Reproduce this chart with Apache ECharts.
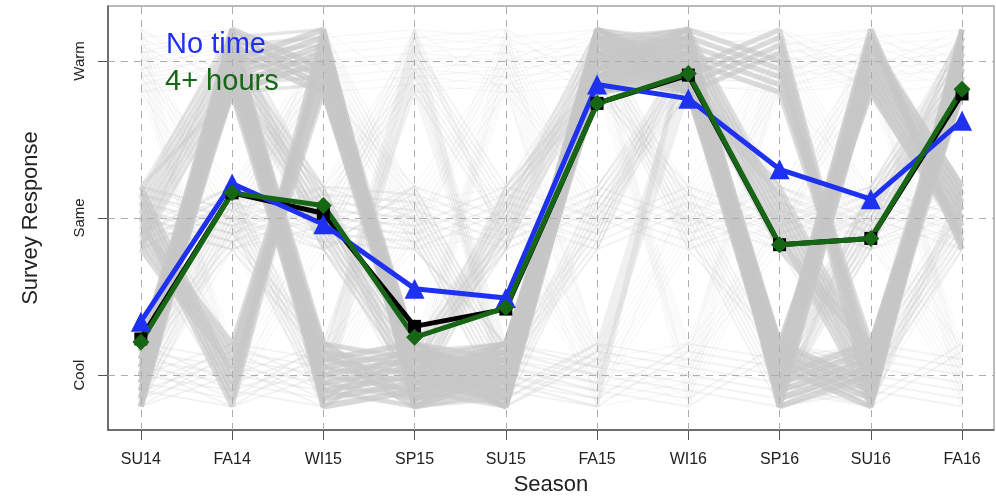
<!DOCTYPE html>
<html>
<head>
<meta charset="utf-8">
<script src="https://cdn.jsdelivr.net/npm/echarts@6/dist/echarts.min.js"></script>
<style>
  html, body { margin: 0; padding: 0; background: #fff; }
  #chart { width: 996px; height: 498px; }
</style>
</head>
<body>
<div id="chart"></div>
<script>
// seasons on the x axis, response levels on the y axis (1 = Cool, 2 = Same, 3 = Warm)
var seasons = ['SU14', 'FA14', 'WI15', 'SP15', 'SU15', 'FA15', 'WI16', 'SP16', 'SU16', 'FA16'];
var levelNames = ['Cool', 'Same', 'Warm'];

// mean responses
var noTime   = [1.34, 2.22, 1.96, 1.55, 1.49, 2.85, 2.76, 2.31, 2.12, 2.62];
var allMean  = [1.23, 2.16, 2.03, 1.31, 1.42, 2.73, 2.91, 1.83, 1.87, 2.79];
var fourPlus = [1.21, 2.16, 2.08, 1.24, 1.43, 2.73, 2.92, 1.83, 1.87, 2.82];

// individual response paths (background) and how many students share each one
var paths = [
  [1, 3, 1, 1, 1, 3, 3, 1, 3, 2],
  [1, 3, 3, 1, 1, 3, 3, 1, 1, 3],
  [2, 1, 3, 1, 1, 3, 3, 3, 1, 3],
  [1, 3, 1, 1, 1, 3, 3, 2, 1, 3],
  [2, 3, 3, 1, 1, 3, 3, 1, 3, 2],
  [1, 3, 2, 1, 2, 3, 3, 1, 1, 3],
  [2, 2, 1, 1, 1, 1, 3, 1, 1, 2],
  [2, 3, 2, 2, 1, 3, 3, 1, 2, 3],
  [1, 3, 1, 3, 2, 3, 3, 1, 1, 3],
  [1, 1, 1, 1, 1, 2, 3, 2, 2, 3],
  [2, 2, 2, 2, 2, 2, 2, 2, 2, 2],
  [1, 1, 1, 1, 1, 1, 1, 1, 1, 1],
  [3, 3, 3, 3, 3, 3, 3, 3, 3, 3],
  [3, 3, 2, 3, 1, 3, 2, 2, 2, 2],
  [3, 1, 3, 2, 3, 2, 3, 1, 3, 1],
  [2, 1, 2, 3, 3, 1, 2, 3, 2, 1],
  [1, 2, 1, 2, 2, 1, 1, 3, 3, 2],
  [3, 2, 3, 1, 3, 3, 1, 2, 1, 3],
  [2, 3, 1, 3, 1, 2, 3, 3, 3, 3],
  [1, 3, 2, 1, 2, 3, 2, 1, 2, 3],
  [2, 1, 3, 1, 1, 3, 3, 2, 1, 3],
  [1, 2, 2, 1, 1, 3, 3, 1, 2, 3],
  [2, 2, 2, 1, 2, 2, 3, 2, 3, 2],
  [1, 2, 3, 2, 1, 3, 3, 3, 1, 2]
];
var pathCounts = [2.5, 2.5, 2.2, 2, 1.5, 1.2, 1, 1, 0.8, 0.8, 0.8, 0.8, 0.5, 0.6, 0.5, 0.5, 0.5, 0.5, 0.5, 0.8, 0.8, 0.8, 0.6, 0.6];
var jitter = [-0.2, -0.15, -0.1, -0.05, 0, 0.05, 0.1, 0.15, 0.2];
var jitterStep = [2, 4, 5, 7, 1, 3, 6, 8];

var chart = echarts.init(document.getElementById('chart'));

var series = [];
paths.forEach(function (p, k) {
  var w = pathCounts[k];
  var step = jitterStep[k % jitterStep.length];
  jitter.forEach(function (j, m) {
    series.push({
      type: 'line',
      data: p.map(function (v, i) { return [i, v + jitter[(m + i * step) % jitter.length]]; }),
      showSymbol: false,
      silent: true,
      z: 2,
      lineStyle: { color: '#c8c8c8', width: Math.min(8, Math.max(1, w * 2.4)), opacity: Math.min(1, 0.28 * w) }
    });
  });
});

// dashed reference lines on top of the grey paths
series.push({
  type: 'line',
  data: [],
  z: 3,
  silent: true,
  markLine: {
    symbol: 'none',
    silent: true,
    label: { show: false },
    lineStyle: { color: '#adadad', type: [7, 6], width: 1 },
    data: seasons.map(function (s, i) { return { xAxis: i }; })
      .concat(levelNames.map(function (s, i) { return { yAxis: i + 1 }; }))
  }
});

function meanSeries(name, values, color, symbol, size) {
  return {
    name: name,
    type: 'line',
    data: values.map(function (v, i) { return [i, v]; }),
    symbol: symbol,
    symbolSize: size,
    z: 5,
    lineStyle: { color: color, width: 5 },
    itemStyle: { color: color }
  };
}
series.push(meanSeries('All', allMean, '#000000', 'rect', 13));
series.push(meanSeries('No time', noTime, '#1f31f0', 'triangle', 20));
series.push(meanSeries('4+ hours', fourPlus, '#166616', 'diamond', 17));

var ticksX = seasons.map(function (s, i) { return i; });

var option = {
  animation: false,
  backgroundColor: '#fff',
  textStyle: { fontFamily: 'Liberation Sans, Arial, sans-serif' },
  grid: {
    left: 108, right: 2, top: 6, bottom: 68,
    containLabel: false, outerBoundsMode: 'none',
    show: true, borderColor: '#777', borderWidth: 1
  },
  xAxis: {
    type: 'value',
    min: -0.36,
    max: 9.35,
    name: 'Season',
    nameLocation: 'middle',
    nameGap: 44,
    nameTextStyle: { fontSize: 22, color: '#222' },
    axisLine: { show: true, onZero: false, lineStyle: { color: '#555', width: 1.5 } },
    axisTick: { show: true, length: 10, customValues: ticksX, lineStyle: { color: '#555' } },
    axisLabel: {
      customValues: ticksX,
      margin: 22,
      fontSize: 16,
      color: '#222',
      formatter: function (v) { return seasons[Math.round(v)]; }
    },
    splitLine: { show: false }
  },
  yAxis: {
    type: 'value',
    min: 0.65,
    max: 3.35,
    name: 'Survey Response',
    nameLocation: 'middle',
    nameGap: 66,
    nameTextStyle: { fontSize: 22, color: '#222' },
    axisLine: { show: true, onZero: false, lineStyle: { color: '#555', width: 1.5 } },
    axisTick: { show: true, length: 10, customValues: [1, 2, 3], lineStyle: { color: '#555' } },
    axisLabel: {
      customValues: [1, 2, 3],
      rotate: 90,
      margin: 21,
      fontSize: 15,
      color: '#222',
      formatter: function (v) { return levelNames[Math.round(v) - 1]; }
    },
    splitLine: { show: false }
  },
  graphic: [
    { type: 'text', left: 166, top: 30, z: 10,
      style: { text: 'No time', fill: '#1f31f0', fontSize: 29, fontFamily: 'Liberation Sans, Arial, sans-serif' } },
    { type: 'text', left: 165, top: 67, z: 10,
      style: { text: '4+ hours', fill: '#166616', fontSize: 29, fontFamily: 'Liberation Sans, Arial, sans-serif' } }
  ],
  series: series
};

chart.setOption(option);
</script>
</body>
</html>
